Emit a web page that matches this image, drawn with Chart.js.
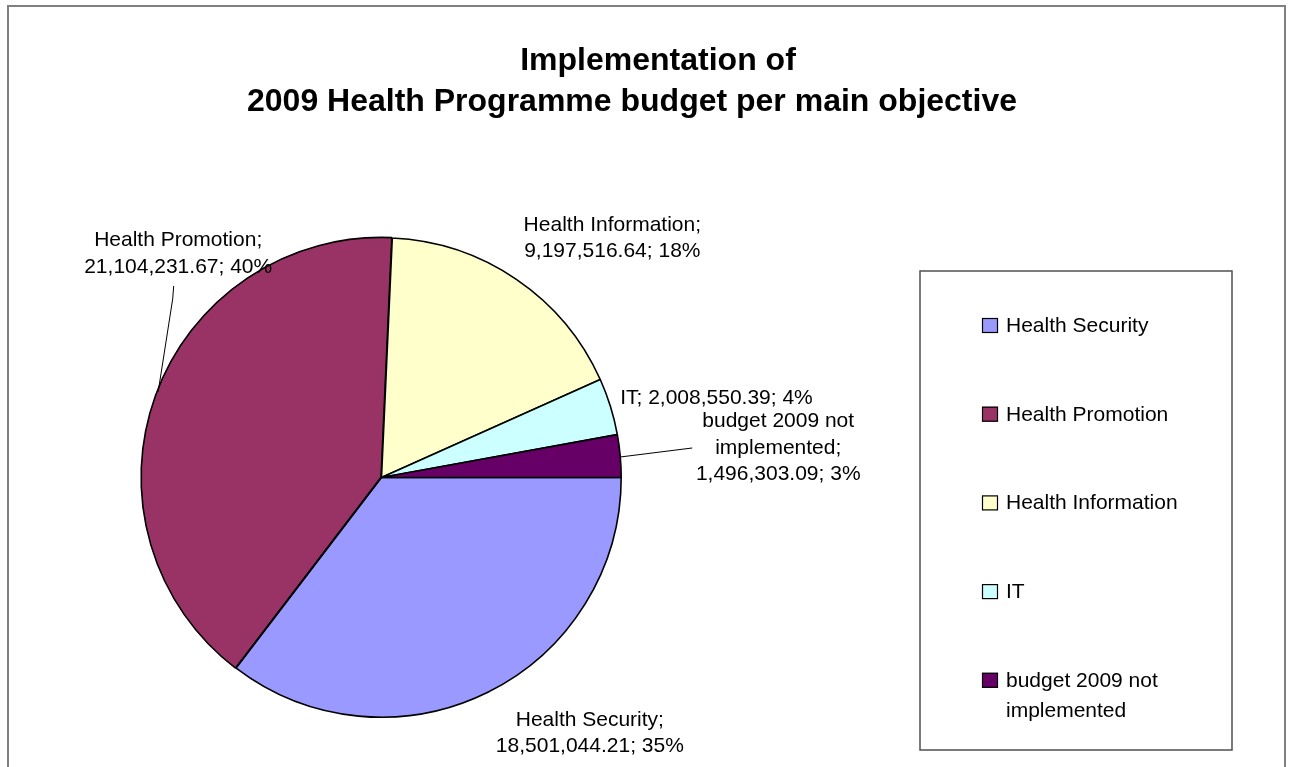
<!DOCTYPE html>
<html><head><meta charset="utf-8">
<script src="https://cdn.jsdelivr.net/npm/chart.js@4.4.1/dist/chart.umd.min.js"></script>
<style>html,body{margin:0;padding:0;background:#fff;overflow:hidden}#wrap{position:relative;width:1292px;height:767px}</style>
</head><body><div id="wrap"><canvas id="c" width="1292" height="767"></canvas></div>
<script>
const categories = ['Health Security','Health Promotion','Health Information','IT','budget 2009 not implemented'];
const amounts = [18501044.21, 21104231.67, 9197516.64, 2008550.39, 1496303.09];
const sliceColors = ['#9999FF','#993366','#FFFFCC','#CCFFFF','#660066'];
const titleLines = ['Implementation of','2009 Health Programme budget per main objective'];

// layout only (label offsets from each slice's outer mid point)
const labelOffsets = [[102,41],[22,-142],[96,-41],[106,-8],[158,-8]];
const leaderKinds = [null,'bottom',null,null,'left'];
const FONT = '"Liberation Sans", Arial, Helvetica, sans-serif';

const total = amounts.reduce((a,b)=>a+b,0);
const fmt = v => v.toLocaleString('en-US',{minimumFractionDigits:2,maximumFractionDigits:2});

function wrap(ctx, text, maxW){
  const words = text.split(' '); const lines=[]; let cur='';
  for(const w of words){
    const t = cur ? cur+' '+w : w;
    if(ctx.measureText(t).width > maxW && cur){ lines.push(cur); cur=w; } else cur=t;
  }
  if(cur) lines.push(cur);
  return lines;
}

const decor = {
  id:'decor',
  afterDraw(chart){
    const ctx = chart.ctx;
    ctx.save();
    // outer frame
    ctx.strokeStyle='#808080'; ctx.lineWidth=2;
    ctx.strokeRect(8,6,1277,800);
    // title
    ctx.fillStyle='#000'; ctx.textAlign='center'; ctx.textBaseline='alphabetic';
    ctx.font='bold 32px '+FONT;
    ctx.fillText(titleLines[0], 658, 70);
    ctx.fillText(titleLines[1], 632, 111);
    // data labels
    const meta = chart.getDatasetMeta(0);
    ctx.font='21px '+FONT;
    ctx.textBaseline='middle';
    meta.data.forEach((arc,i)=>{
      const p = arc.getProps(['x','y','startAngle','endAngle','outerRadius'],true);
      const mid=(p.startAngle+p.endAngle)/2;
      const ax=p.x+Math.cos(mid)*p.outerRadius, ay=p.y+Math.sin(mid)*p.outerRadius;
      const txt = categories[i]+'; '+fmt(amounts[i])+'; '+Math.round(amounts[i]/total*100)+'%';
      const lines = wrap(ctx, txt, 205);
      const lh=26.5;
      const cx=ax+labelOffsets[i][0], cy=ay+labelOffsets[i][1];
      const y0 = cy-(lines.length-1)*lh/2;
      ctx.fillStyle='#000';
      lines.forEach((l,k)=>ctx.fillText(l,cx,y0+k*lh));
      ctx.strokeStyle='#000'; ctx.lineWidth=1;
      if(leaderKinds[i]==='bottom'){
        ctx.beginPath(); ctx.moveTo(cx-4.5, y0+(lines.length-1)*lh+19); ctx.lineTo(cx-5.5,y0+(lines.length-1)*lh+32); ctx.lineTo(ax+2,ay-4); ctx.stroke();
      } else if(leaderKinds[i]==='left'){
        ctx.beginPath(); ctx.moveTo(cx-86, cy); ctx.lineTo(ax, ay+1); ctx.stroke();
      }
    });
    // legend box
    ctx.strokeStyle='#505050'; ctx.lineWidth=1.5;
    ctx.strokeRect(920,271,312,479);
    ctx.textAlign='left'; ctx.textBaseline='alphabetic';
    categories.forEach((c,i)=>{
      const by = 332 + i*88.7;
      ctx.fillStyle=sliceColors[i];
      ctx.fillRect(982,by-14,16,15);
      ctx.strokeStyle='#000'; ctx.lineWidth=1.2;
      ctx.strokeRect(982.5,by-13.5,15,14);
      ctx.fillStyle='#000';
      wrap(ctx,c,200).forEach((l,k)=>ctx.fillText(l,1006,by+k*30));
    });
    ctx.restore();
  }
};

new Chart(document.getElementById('c'),{
  type:'pie',
  data:{labels:categories,datasets:[{data:amounts,backgroundColor:sliceColors,borderColor:'#000',borderWidth:1.6,offset:[0,2,0,0,0]}]},
  options:{
    responsive:false, animation:false, rotation:90,
    layout:{padding:{left:140,top:236,right:669,bottom:48}},
    plugins:{legend:{display:false},tooltip:{enabled:false},title:{display:false}}
  },
  plugins:[decor]
});
</script></body></html>
